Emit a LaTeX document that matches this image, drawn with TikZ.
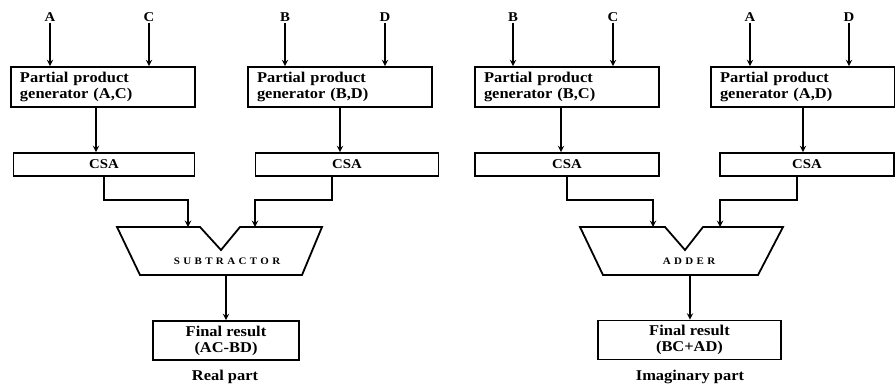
\documentclass[tikz,border=0pt]{standalone}
\usepackage{fontspec}
\setmainfont{Liberation Serif}[FakeStretch=1.1]
\usetikzlibrary{arrows}

\newcommand\boxfont{\fontsize{15}{16}\selectfont\bfseries}
\newcommand\labfont{\fontsize{13.5}{15}\selectfont\bfseries}
\newcommand\opfont{\fontsize{10}{11}\selectfont\bfseries\addfontfeature{LetterSpace=34}}

\tikzset{
  ppbox/.style={draw, line width=1.7bp, minimum height=40bp, text width=166bp,
    inner xsep=9bp, align=left, font=\boxfont},
  csabox/.style={draw, line width=1.7bp, minimum height=23bp, minimum width=#1,
    font=\labfont},
  resbox/.style={draw, line width=1.7bp, minimum height=39bp, minimum width=#1,
    align=center, font=\boxfont},
  inlab/.style={font=\labfont, inner sep=1bp},
  wire/.style={line width=1.8bp}
}

\begin{document}
\begin{tikzpicture}[x=1bp,y=-1bp,>=stealth]
  \useasboundingbox (0,0) rectangle (895,385);

  % real part
  \node (a1) [inlab] at (50,17) {A};
  \node (c1) [inlab] at (149,17) {C};
  \node (b1) [inlab] at (285,17) {B};
  \node (d1) [inlab] at (385,17) {D};
  \node (ppAC) [ppbox] at (103,87) {Partial product\\generator (A,C)};
  \node (ppBD) [ppbox] at (340,87) {Partial product\\generator (B,D)};
  \node (csa1) [csabox=181bp] at (104,164.5) {CSA};
  \node (csa2) [csabox=183bp] at (347,164.5) {CSA};
  \draw[wire] (117,227) -- (200,227) -- (221,250) -- (240,227) -- (322,227)
    -- (302,275) -- (140,275) -- cycle;
  \node (sub) at (227,261) {\opfont SUBTRACTOR};
  \coordinate (subL) at (188,227);
  \coordinate (subR) at (255,227);
  \coordinate (subout) at (226,275);
  \node (res1) [resbox=146bp] at (226,340.5) {Final result\\(AC-BD)};
  \node (real) [font=\boxfont] at (225,377) {Real part};

  % imaginary part
  \node (b2) [inlab] at (513,17) {B};
  \node (c2) [inlab] at (613,17) {C};
  \node (a2) [inlab] at (750,17) {A};
  \node (d2) [inlab] at (849,17) {D};
  \node (ppBC) [ppbox] at (567,87) {Partial product\\generator (B,C)};
  \node (ppAD) [ppbox] at (803,87) {Partial product\\generator (A,D)};
  \node (csa3) [csabox=184bp] at (567,164.5) {CSA};
  \node (csa4) [csabox=174bp] at (807,164.5) {CSA};
  \draw[wire] (580,227) -- (665,227) -- (685,250) -- (703,227) -- (783,227)
    -- (758,275) -- (603,275) -- cycle;
  \node (add) at (689,261) {\opfont ADDER};
  \coordinate (addL) at (653,227);
  \coordinate (addR) at (720,227);
  \coordinate (addout) at (690,275);
  \node (res2) [resbox=183bp] at (689.5,340) {Final result\\(BC+AD)};
  \node (imag) [font=\boxfont] at (690,377) {Imaginary part};

  \path[wire,-stealth]
    (a1) edge (a1 |- ppAC.north)
    (c1) edge (c1 |- ppAC.north)
    (b1) edge (b1 |- ppBD.north)
    (d1) edge (d1 |- ppBD.north)
    (b2) edge (b2 |- ppBC.north)
    (c2) edge (c2 |- ppBC.north)
    (a2) edge (a2 |- ppAD.north)
    (d2) edge (d2 |- ppAD.north)
    ([xshift=-7bp]ppAC.south) edge ([xshift=-7bp]ppAC.south |- csa1.north)
    (ppBD.south) edge (ppBD.south |- csa2.north)
    ([xshift=-6bp]ppBC.south) edge ([xshift=-6bp]ppBC.south |- csa3.north)
    (ppAD.south) edge (ppAD.south |- csa4.north)
    (subout) edge (subout |- res1.north)
    (addout) edge (addout |- res2.north);

  \draw[wire,-stealth] (csa1.south) |- (188,200) -- (subL);
  \draw[wire,-stealth] ([xshift=-15bp]csa2.south) |- (255,200) -- (subR);
  \draw[wire,-stealth] (csa3.south) |- (653,200) -- (addL);
  \draw[wire,-stealth] ([xshift=-10bp]csa4.south) |- (720,200) -- (addR);
\end{tikzpicture}
\end{document}
